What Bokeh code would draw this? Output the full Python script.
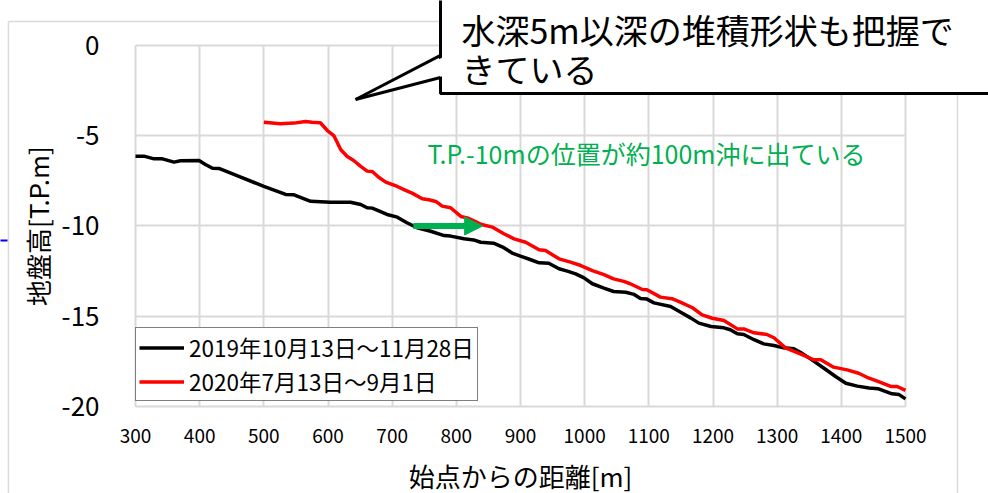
from bokeh.plotting import figure
from bokeh.models import (Range1d, FixedTicker, Legend, LegendItem, Label,
                          Arrow, NormalHead, PolyAnnotation)
from bokeh.embed import file_html
from bokeh.resources import INLINE

# Distance from the start point [m] and ground height [T.P.m], survey 2019
dist_2019 = [300, 313, 329, 342, 360, 370, 399, 409, 420, 430, 465, 500, 534, 547,
             573, 604, 635, 651, 661, 669, 692, 708, 723, 739, 760, 781, 791, 812,
             827, 838, 858, 874, 887, 900, 916, 929, 944, 960, 973, 986, 999, 1012,
             1030, 1045, 1064, 1077, 1087, 1097, 1108, 1134, 1149, 1165, 1178, 1197,
             1217, 1227, 1238, 1248, 1264, 1279, 1295, 1310, 1326, 1336, 1352, 1373,
             1391, 1407, 1425, 1443, 1458, 1479, 1490, 1500]
elev_2019 = [-6.13, -6.13, -6.28, -6.28, -6.46, -6.39, -6.37, -6.59, -6.80, -6.81,
             -7.30, -7.81, -8.25, -8.27, -8.63, -8.68, -8.68, -8.81, -8.99, -9.01,
             -9.36, -9.51, -9.82, -10.10, -10.29, -10.53, -10.56, -10.71, -10.77,
             -10.90, -10.95, -11.20, -11.50, -11.67, -11.87, -12.04, -12.06, -12.37,
             -12.50, -12.65, -12.87, -13.20, -13.44, -13.63, -13.67, -13.79, -14.02,
             -14.05, -14.26, -14.46, -14.77, -15.09, -15.38, -15.57, -15.64, -15.75,
             -15.97, -16.01, -16.30, -16.53, -16.62, -16.75, -16.80, -16.99, -17.36,
             -17.88, -18.34, -18.71, -18.87, -18.98, -19.02, -19.30, -19.34, -19.58]

# Survey 2020
dist_2020 = [500, 526, 547, 565, 575, 588, 599, 609, 620, 630, 640, 651, 661, 669,
             679, 690, 708, 721, 731, 747, 757, 768, 778, 791, 807, 817, 830, 838,
             856, 874, 890, 908, 929, 939, 960, 978, 994, 1012, 1030, 1045, 1061,
             1071, 1090, 1097, 1118, 1136, 1149, 1168, 1183, 1199, 1217, 1238, 1248,
             1264, 1284, 1295, 1313, 1336, 1357, 1368, 1388, 1409, 1427, 1440, 1456,
             1477, 1487, 1500]
elev_2020 = [-4.25, -4.34, -4.30, -4.21, -4.25, -4.28, -4.71, -4.99, -5.78, -6.15,
             -6.37, -6.70, -6.96, -6.98, -7.30, -7.57, -7.81, -8.03, -8.18, -8.49,
             -8.55, -8.64, -8.90, -8.99, -9.47, -9.55, -9.75, -9.90, -10.06, -10.43,
             -10.71, -10.90, -11.32, -11.36, -11.82, -12.00, -12.19, -12.47, -12.69,
             -12.93, -13.07, -13.20, -13.52, -13.53, -13.94, -14.03, -14.22, -14.53,
             -14.92, -15.11, -15.24, -15.70, -15.70, -15.92, -16.01, -16.19, -16.75,
             -17.08, -17.41, -17.41, -17.82, -17.97, -18.16, -18.38, -18.60, -18.89,
             -18.89, -19.11]

series_names = ["2019年10月13日～11月28日", "2020年7月13日～9月1日"]
series_colors = ["#000000", "#ff0000"]

x_ticks = [300, 400, 500, 600, 700, 800, 900, 1000, 1100, 1200, 1300, 1400, 1500]
x_tick_labels = [str(t) for t in x_ticks]
y_ticks = [0, -5, -10, -15, -20]
y_tick_labels = ["0", "-5", "-10", "-15", "-20"]

# Shift of the T.P.-10m contour between the two surveys
shift_level = -10
shift_from = 733
shift_to = 841

JP = "Noto Sans CJK JP"
GRID = "#d9d9d9"

# The frame fills the page; the plotted area (300-1500 m, 0 to -20 m) sits inside
# it and the axes are pinned to its edges, leaving room for the callout and margins.
p = figure(width=988, height=493, x_range=Range1d(89.61, 1629.35),
           y_range=Range1d(-24.82, 2.493),
           output_backend="svg", toolbar_location=None,
           min_border=0, min_border_left=0, min_border_right=0,
           min_border_top=0, min_border_bottom=0)
p.outline_line_color = None
p.background_fill_color = "white"
p.border_fill_color = "white"

p.xgrid.ticker = FixedTicker(ticks=x_ticks)
p.ygrid.ticker = FixedTicker(ticks=y_ticks)
p.xgrid.cross_bounds = (-20, 0)
p.ygrid.cross_bounds = (300, 1500)
for g in (p.xgrid, p.ygrid):
    g.grid_line_color = GRID
    g.grid_line_width = 2

p.xaxis.ticker = FixedTicker(ticks=x_ticks)
p.yaxis.ticker = FixedTicker(ticks=y_ticks)
p.xaxis.fixed_location = -20
p.yaxis.fixed_location = 300
p.xaxis.bounds = (300, 1500)
p.yaxis.bounds = (-20, 0)
p.xaxis.major_label_overrides = dict(zip(x_ticks, x_tick_labels))
p.yaxis.major_label_overrides = dict(zip(y_ticks, y_tick_labels))
for ax in (p.xaxis[0], p.yaxis[0]):
    ax.axis_line_color = None
    ax.major_tick_line_color = None
    ax.minor_tick_line_color = None
    ax.major_label_text_font = JP
    ax.major_label_text_color = "black"
    ax.axis_label_text_font = JP
    ax.axis_label_text_font_style = "normal"
    ax.axis_label_text_color = "black"

p.xaxis.major_label_text_font_size = "19px"
p.xaxis.major_label_standoff = 17
p.xaxis.axis_label = "始点からの距離[m]"
p.xaxis.axis_label_text_font_size = "26px"
p.xaxis.axis_label_standoff = 10

p.yaxis.major_label_text_font_size = "26px"
p.yaxis.major_label_standoff = 30
p.yaxis.axis_label = "地盤高[T.P.m]"
p.yaxis.axis_label_text_font_size = "26px"
p.yaxis.axis_label_standoff = 3

# Outline of the chart area on the slide
for xs, ys, xe, ye in [(102, 1.33, 102, -25.5), (102, 1.33, 776, 1.33),
                       (1581, -2.66, 1581, -25.5)]:
    p.add_layout(Arrow(end=None, x_start=xs, y_start=ys, x_end=xe, y_end=ye,
                       line_color=GRID, line_width=1.5))
p.add_layout(Arrow(end=None, x_start=85, y_start=-10.8, x_end=100.5, y_end=-10.8,
                   line_color="#0000ff", line_width=2))

r19 = p.line(dist_2019, elev_2019, line_color=series_colors[0], line_width=3.5)
r20 = p.line(dist_2020, elev_2020, line_color=series_colors[1], line_width=3.5)

legend = Legend(items=[LegendItem(label=series_names[0], renderers=[r19]),
                       LegendItem(label=series_names[1], renderers=[r20])],
                location=(135, 92), orientation="vertical")
legend.border_line_color = "black"
legend.border_line_width = 1.5
legend.background_fill_color = "white"
legend.background_fill_alpha = 1
legend.label_text_font = JP
legend.label_text_font_size = "22.5px"
legend.label_text_color = "black"
legend.glyph_width = 45
legend.glyph_height = 29
legend.label_height = 29
legend.label_standoff = 5
legend.padding = 3
legend.spacing = 2
legend.margin = 0
p.add_layout(legend, "center")

# Green note and arrow
p.add_layout(Label(x=755, y=-5.98, text="T.P.-10mの位置が約100m沖に出ている",
                   text_font=JP, text_font_size="25px", text_color="#00b050",
                   text_align="left", text_baseline="middle"))
p.add_layout(Arrow(x_start=shift_from, y_start=shift_level, x_end=shift_to,
                   y_end=shift_level, line_color="#00b050", line_width=6,
                   end=NormalHead(size=18, fill_color="#00b050", line_color="#00b050")))

# Callout box with pointer
p.add_layout(Label(x=775.3, y=-2.66, text="水深5m以深の堆積形状も把握で\nきている",
                   text_font=JP, text_font_size="34px", text_color="black",
                   text_align="left", text_baseline="bottom", text_line_height=0.8,
                   background_fill_color="white", background_fill_alpha=1,
                   border_line_color="black", border_line_width=3,
                   padding=dict(left=21, right=80, top=25, bottom=0)))
p.add_layout(PolyAnnotation(xs=[780, 642.9, 780], ys=[-0.64, -2.99, -1.69],
                            fill_color="white", fill_alpha=1, line_color=None))
p.add_layout(Arrow(end=None, x_start=775.3, y_start=-0.55, x_end=642.9, y_end=-2.99,
                   line_color="black", line_width=3))
p.add_layout(Arrow(end=None, x_start=642.9, y_start=-2.99, x_end=775.3, y_end=-1.77,
                   line_color="black", line_width=3))

open("out.html", "w").write(file_html(p, INLINE))
